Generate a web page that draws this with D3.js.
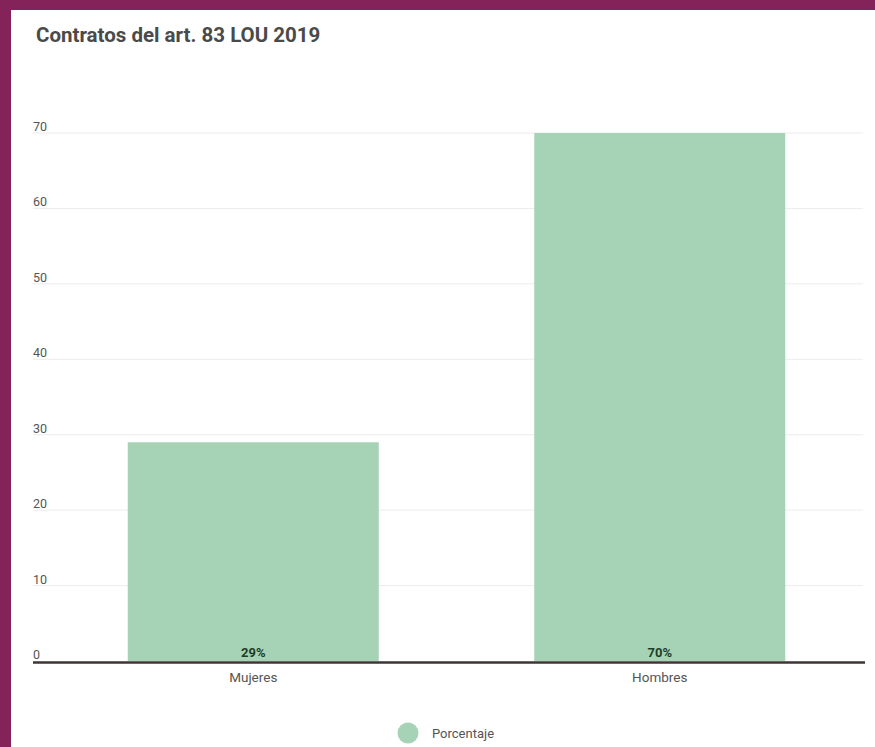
<!DOCTYPE html>
<html>
<head>
<meta charset="utf-8">
<script src="https://cdn.jsdelivr.net/npm/d3@7/dist/d3.min.js"></script>
<style>
  html, body { margin: 0; padding: 0; background: #84235a; }
  svg { display: block; }
</style>
</head>
<body>
<svg id="chart" width="875" height="747"></svg>
<script>
// Chart data
const categories = ["Mujeres", "Hombres"];
const porcentaje = [29, 70];
const valueLabels = ["29%", "70%"];
const yTicks = [0, 10, 20, 30, 40, 50, 60, 70];
const seriesName = "Porcentaje";

const W = 875, H = 747;
const svg = d3.select("#chart");

// white card with purple frame on the left and top
svg.append("rect").attr("x", 0).attr("y", 0).attr("width", W).attr("height", H).attr("fill", "#84235a");
svg.append("rect").attr("x", 11).attr("y", 10).attr("width", W - 11).attr("height", H - 10).attr("fill", "#ffffff");

const font = "Roboto, 'Noto Sans', sans-serif";

svg.append("text")
  .attr("x", 36).attr("y", 42)
  .attr("font-family", font).attr("font-size", 20.5).attr("font-weight", 700)
  .attr("fill", "#4a4a4a")
  .text("Contratos del art. 83 LOU 2019");

const plotLeft = 50, plotRight = 863, gridLeft = 33;
const y = d3.scaleLinear().domain([0, 70]).range([661, 133]);
const x = d3.scaleBand().domain(categories).range([plotLeft, plotRight])
  .paddingInner(0.3825).paddingOuter(0.3825 / 2);

// gridlines
svg.append("g").selectAll("line").data(yTicks.filter(d => d > 0)).join("line")
  .attr("x1", gridLeft).attr("x2", plotRight)
  .attr("y1", d => y(d)).attr("y2", d => y(d))
  .attr("stroke", "#ececec").attr("stroke-width", 1);

// y tick labels, sitting just above their gridline
const yAxis = d3.axisLeft(y).tickValues(yTicks).tickSize(0).tickFormat(d3.format("d"));
const yg = svg.append("g").attr("transform", `translate(${gridLeft},0)`).call(yAxis);
yg.select(".domain").remove();
yg.selectAll("text")
  .attr("text-anchor", "start").attr("x", 0).attr("dy", "-0.2em")
  .attr("font-family", font).attr("font-size", 12.5).attr("fill", "#555");

// bars
svg.append("g").selectAll("rect").data(categories).join("rect")
  .attr("x", d => x(d)).attr("width", x.bandwidth())
  .attr("y", (d, i) => y(porcentaje[i]))
  .attr("height", (d, i) => y(0) - y(porcentaje[i]))
  .attr("fill", "#a6d3b6");

// baseline
svg.append("line")
  .attr("x1", gridLeft).attr("x2", 865)
  .attr("y1", y(0) + 1.5).attr("y2", y(0) + 1.5)
  .attr("stroke", "#3e3434").attr("stroke-width", 2.5);

// value labels at the foot of each bar
svg.append("g").selectAll("text").data(categories).join("text")
  .attr("x", d => x(d) + x.bandwidth() / 2)
  .attr("y", y(0) - 4)
  .attr("text-anchor", "middle")
  .attr("font-family", font).attr("font-size", 13).attr("font-weight", 700)
  .attr("fill", "#1e3d27")
  .text((d, i) => valueLabels[i]);

// x axis labels
const xAxis = d3.axisBottom(x).tickSize(0);
const xg = svg.append("g").attr("transform", `translate(0,${y(0) + 3})`).call(xAxis);
xg.select(".domain").remove();
xg.selectAll("text")
  .attr("dy", "1.1em")
  .attr("font-family", font).attr("font-size", 13.5).attr("fill", "#555");

// legend
const legend = svg.append("g").attr("transform", "translate(408,733)");
legend.append("circle").attr("r", 10.5).attr("fill", "#a6d3b6");
legend.append("text")
  .attr("x", 24).attr("dy", "0.35em")
  .attr("font-family", font).attr("font-size", 13).attr("fill", "#555")
  .text(seriesName);
</script>
</body>
</html>
